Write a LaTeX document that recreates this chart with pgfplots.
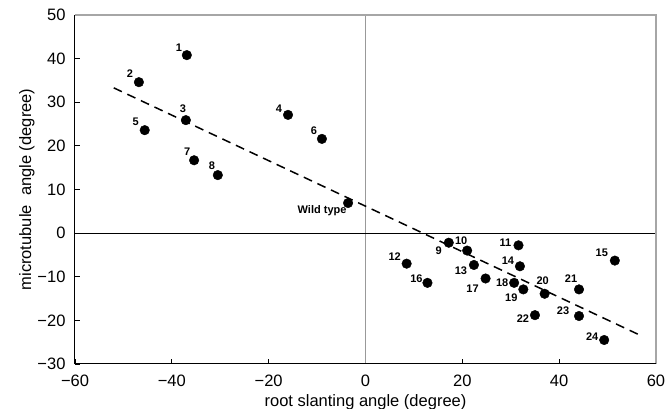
\documentclass[border=0pt]{standalone}
\usepackage{pgfplots}
\pgfplotsset{compat=1.18}
\usepackage{fontspec}
\setmainfont{Liberation Sans}
\begin{document}
\begin{tikzpicture}
\path[use as bounding box] (-75pt,-45pt) rectangle (590pt,364pt);
\begin{axis}[
  at={(0,0)}, anchor=south west,
  scale only axis, width=581pt, height=349pt,
  xmin=-60, xmax=60, ymin=-30, ymax=50,
  xtick={-60,-40,...,60}, ytick={-30,-20,...,50},
  xticklabels={−60,−40,−20,0,20,40,60},
  yticklabels={−30,−20,−10,0,10,20,30,40,50},
  xtick pos=left, ytick pos=left, tick align=inside,
  major tick length=5pt,
  tick style={black, line width=0.8pt},
  axis line style={draw=none},
  clip=false,
  tick label style={font=\fontsize{16.5}{18}\selectfont},
  xticklabel style={yshift=-7pt},
  yticklabel style={xshift=-6pt},
  label style={font=\fontsize{16.5}{18}\selectfont},
  xlabel={root slanting angle (degree)},
  xlabel style={yshift=-1pt},
  ylabel={microtubule\ \ angle (degree)},
  ylabel style={yshift=-4pt},
]
% zero lines
\draw[gray!80, line width=1.5pt] (0,-30) -- (0,50);
\draw[black, line width=0.9pt] (-60,0) -- (60,0);
% box
\draw[gray!70, line width=1.5pt] (-60,50) -- (60,50) -- (60,-30);
\draw[black, line width=1pt] (-60,50) -- (-60,-30) -- (60,-30);
% regression line
\addplot[black, line width=1.5pt, dash pattern=on 9pt off 6pt] coordinates {(-52,33.3) (56.7,-23.4)};
% data points
\addplot[only marks, mark=*, mark size=4.8pt, black] table {
x y
-36.9 40.8
-46.8 34.6
-37.1 25.9
-16.0 27.1
-45.6 23.6
-9.0 21.6
-35.4 16.7
-30.5 13.3
-3.6 6.9
17.2 -2.2
21.0 -4.0
31.6 -2.8
8.5 -7.0
22.4 -7.3
31.9 -7.6
51.5 -6.3
12.8 -11.4
24.8 -10.4
30.7 -11.4
32.6 -12.9
37.0 -13.9
44.1 -12.9
35.0 -18.8
44.1 -19.0
49.3 -24.5
};
\tikzset{lbl/.style={font=\bfseries\fontsize{11}{12}\selectfont, inner sep=0pt}}
\node[lbl, xshift=-8pt, yshift=7pt] at (-36.9,40.8) {1};
\node[lbl, xshift=-9pt, yshift=9pt] at (-46.8,34.6) {2};
\node[lbl, xshift=-3pt, yshift=11pt] at (-37.1,25.9) {3};
\node[lbl, xshift=-9pt, yshift=6pt] at (-16.0,27.1) {4};
\node[lbl, xshift=-9pt, yshift=8pt] at (-45.6,23.6) {5};
\node[lbl, xshift=-8pt, yshift=8pt] at (-9.0,21.6) {6};
\node[lbl, xshift=-7pt, yshift=9pt] at (-35.4,16.7) {7};
\node[lbl, xshift=-6pt, yshift=9pt] at (-30.5,13.3) {8};
\node[lbl, xshift=-26pt, yshift=-8pt] at (-3.6,6.9) {Wild type};
\node[lbl, xshift=-10pt, yshift=-8pt] at (17.2,-2.2) {9};
\node[lbl, xshift=-6pt, yshift=10pt] at (21.0,-4.0) {10};
\node[lbl, xshift=-13pt, yshift=3pt] at (31.6,-2.8) {11};
\node[lbl, xshift=-12pt, yshift=7pt] at (8.5,-7.0) {12};
\node[lbl, xshift=-13pt, yshift=-6pt] at (22.4,-7.3) {13};
\node[lbl, xshift=-12pt, yshift=6pt] at (31.9,-7.6) {14};
\node[lbl, xshift=-13pt, yshift=8pt] at (51.5,-6.3) {15};
\node[lbl, xshift=-11pt, yshift=4pt] at (12.8,-11.4) {16};
\node[lbl, xshift=-13pt, yshift=-10pt] at (24.8,-10.4) {17};
\node[lbl, xshift=-12pt, yshift=0pt] at (30.7,-11.4) {18};
\node[lbl, xshift=-12pt, yshift=-8pt] at (32.6,-12.9) {19};
\node[lbl, xshift=-2pt, yshift=13pt] at (37.0,-13.9) {20};
\node[lbl, xshift=-8pt, yshift=11pt] at (44.1,-12.9) {21};
\node[lbl, xshift=-12pt, yshift=-4pt] at (35.0,-18.8) {22};
\node[lbl, xshift=-16pt, yshift=5pt] at (44.1,-19.0) {23};
\node[lbl, xshift=-12pt, yshift=3pt] at (49.3,-24.5) {24};
\end{axis}
\end{tikzpicture}
\end{document}
